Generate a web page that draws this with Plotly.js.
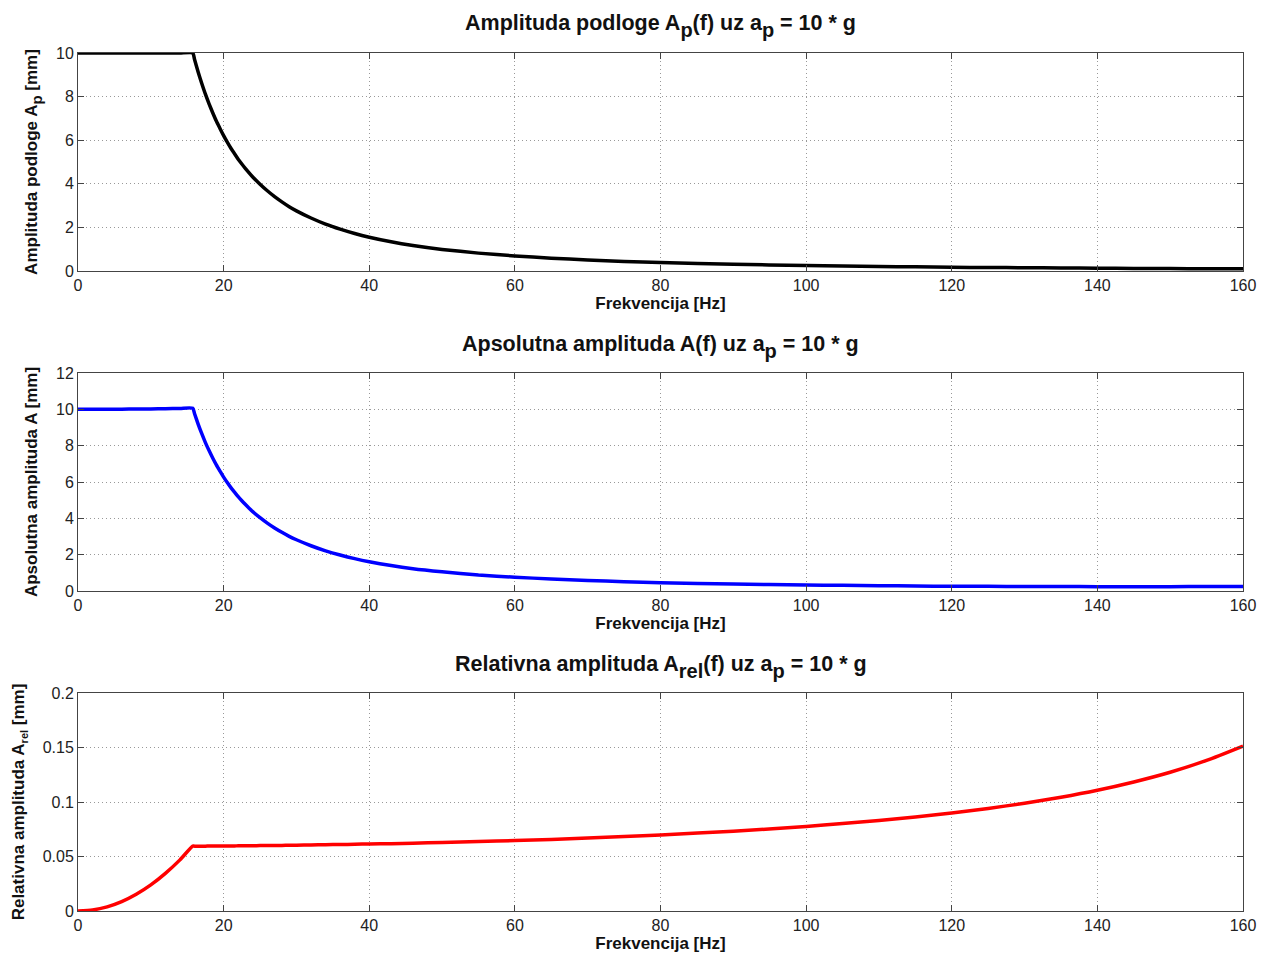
<!DOCTYPE html>
<html>
<head>
<meta charset="utf-8">
<script src="https://cdn.plot.ly/plotly-3.0.1.min.js"></script>
<style>html,body{margin:0;padding:0;background:#fff;}#chart{width:1269px;height:956px;}</style>
</head>
<body>
<div id="chart"></div>
<script>
// Frequency samples [Hz]
const freq = [0, 2, 4, 6, 8, 10, 12, 14, 15.76,
  16, 16.5, 17, 17.5, 18, 18.5, 19, 19.5, 20, 20.5, 21, 21.5, 22, 22.5, 23, 23.5, 24, 25, 26, 27, 28, 29, 30,
  32, 34, 36, 38, 40, 43, 46, 50, 55, 60, 65, 70, 75, 80, 90, 100, 105, 110, 115, 120, 125, 130, 135, 140, 145, 150, 155, 160];

// Amplituda podloge A_p [mm]
const ampPodloge = [10, 10, 10, 10, 10, 10, 10, 10, 10,
  9.71, 9.13, 8.60, 8.11, 7.67, 7.26, 6.88, 6.54, 6.21, 5.91, 5.63, 5.38, 5.13, 4.91, 4.70, 4.50, 4.31, 3.98, 3.68, 3.41, 3.17, 2.95, 2.76,
  2.43, 2.15, 1.92, 1.72, 1.55, 1.34, 1.17, 0.99, 0.82, 0.69, 0.59, 0.51, 0.44, 0.39, 0.31, 0.25, 0.225, 0.21, 0.19, 0.17, 0.16, 0.15, 0.14, 0.13, 0.12, 0.11, 0.105, 0.10];

// Apsolutna amplituda A [mm]
const ampApsolutna = [10, 10.001, 10.004, 10.009, 10.015, 10.024, 10.034, 10.047, 10.059,
  9.77, 9.19, 8.66, 8.17, 7.73, 7.32, 6.94, 6.60, 6.27, 5.97, 5.69, 5.44, 5.19, 4.97, 4.76, 4.56, 4.37, 4.04, 3.74, 3.47, 3.23, 3.01, 2.82,
  2.49, 2.21, 1.98, 1.78, 1.61, 1.40, 1.23, 1.06, 0.88, 0.76, 0.66, 0.58, 0.51, 0.46, 0.38, 0.33, 0.31, 0.29, 0.275, 0.26, 0.255, 0.25, 0.245, 0.24, 0.24, 0.24, 0.245, 0.25];

// Relativna amplituda A_rel [mm]
const ampRelativna = [0, 0.001, 0.0038, 0.0086, 0.0153, 0.0239, 0.0345, 0.0469, 0.0595,
  0.0595, 0.0595, 0.0595, 0.0595, 0.0596, 0.0596, 0.0596, 0.0596, 0.0597, 0.0597, 0.0597, 0.0597, 0.0598, 0.0598, 0.0599, 0.0599, 0.0599, 0.0600, 0.0601, 0.0602, 0.0602, 0.0603, 0.0604,
  0.0606, 0.0608, 0.0610, 0.0612, 0.0615, 0.0618, 0.0622, 0.0629, 0.0637, 0.0647, 0.0657, 0.0669, 0.0683, 0.0698, 0.0732, 0.0776, 0.0802, 0.0830, 0.0863, 0.0900, 0.0941, 0.0989, 0.1044, 0.1108, 0.1184, 0.1273, 0.1381, 0.1513];

const subT = s => `<span style="font-size:20px;baseline-shift:-7px">${s}</span>`;
const titles = [
  `Amplituda podloge A${subT('p')}(f) uz a${subT('p')} = 10 * g`,
  `Apsolutna amplituda A(f) uz a${subT('p')} = 10 * g`,
  `Relativna amplituda A${subT('rel')}(f) uz a${subT('p')} = 10 * g`
];
const yTitles = [
  `Amplituda podloge A<span style="font-size:15px;baseline-shift:-5px">p</span> [mm]`,
  'Apsolutna amplituda A [mm]',
  `Relativna amplituda A<span style="font-size:11px;baseline-shift:-4px">rel</span> [mm]`
];
const xTitle = 'Frekvencija [Hz]';

const H = 956;
const FONT = 'Liberation Sans, Arial, Helvetica, sans-serif';
const frameColor = '#444';
const GRID = {showgrid: true, gridcolor: '#999', griddash: '1px,3px', gridwidth: 1};

function xAxis(anchor) {
  return Object.assign({
    anchor: anchor, domain: [0, 1], range: [0, 160], dtick: 20, tick0: 0,
    showline: true, mirror: 'ticks', linecolor: frameColor, linewidth: 1,
    ticks: 'inside', ticklen: 6, tickcolor: frameColor,
    zeroline: false, tickfont: {family: FONT, size: 16, color: '#222'},
    title: {text: xTitle, font: {family: FONT, size: 17, color: '#111', weight: 'bold'}, standoff: 2},
    automargin: false
  }, GRID);
}
function yAxis(anchor, dom, range, dtick, title, standoff) {
  return Object.assign({
    anchor: anchor, domain: dom, range: range, dtick: dtick, tick0: 0,
    showline: true, mirror: 'ticks', linecolor: frameColor, linewidth: 1,
    ticks: 'inside', ticklen: 6, tickcolor: frameColor,
    zeroline: false, tickfont: {family: FONT, size: 16, color: '#222'},
    title: {text: title, font: {family: FONT, size: 17, color: '#111', weight: 'bold'}, standoff: standoff},
    automargin: false
  }, GRID);
}
const dom = (top, bot) => [1 - bot / H, 1 - top / H];

const lineStyle = c => ({color: c, width: 3.5, shape: 'spline', smoothing: 0.6});
const traces = [
  {x: freq, y: ampPodloge, xaxis: 'x', yaxis: 'y', mode: 'lines', line: lineStyle('#000000')},
  {x: freq, y: ampApsolutna, xaxis: 'x2', yaxis: 'y2', mode: 'lines', line: lineStyle('#0000ff')},
  {x: freq, y: ampRelativna, xaxis: 'x3', yaxis: 'y3', mode: 'lines', line: lineStyle('#ff0000')}
];

const titleY = [26, 347, 667];
const layout = {
  width: 1269, height: 956,
  margin: {l: 78, r: 26, t: 0, b: 0},
  paper_bgcolor: '#fff', plot_bgcolor: '#fff',
  showlegend: false,
  font: {family: FONT},
  xaxis: xAxis('y'), yaxis: yAxis('x', dom(53, 271), [0, 10], 2, yTitles[0], 14),
  xaxis2: xAxis('y2'), yaxis2: yAxis('x2', dom(373, 591), [0, 12], 2, yTitles[1], 14),
  xaxis3: xAxis('y3'), yaxis3: yAxis('x3', dom(693, 911), [0, 0.2], 0.05, yTitles[2], 13),
  annotations: titles.map((t, i) => ({
    text: t, xref: 'paper', yref: 'paper', x: 0.5, y: 1 - titleY[i] / H,
    xanchor: 'center', yanchor: 'middle', showarrow: false,
    font: {family: FONT, size: 21.5, color: '#111', weight: 'bold'}
  }))
};

Plotly.newPlot('chart', traces, layout, {displayModeBar: false, staticPlot: true});
</script>
</body>
</html>
